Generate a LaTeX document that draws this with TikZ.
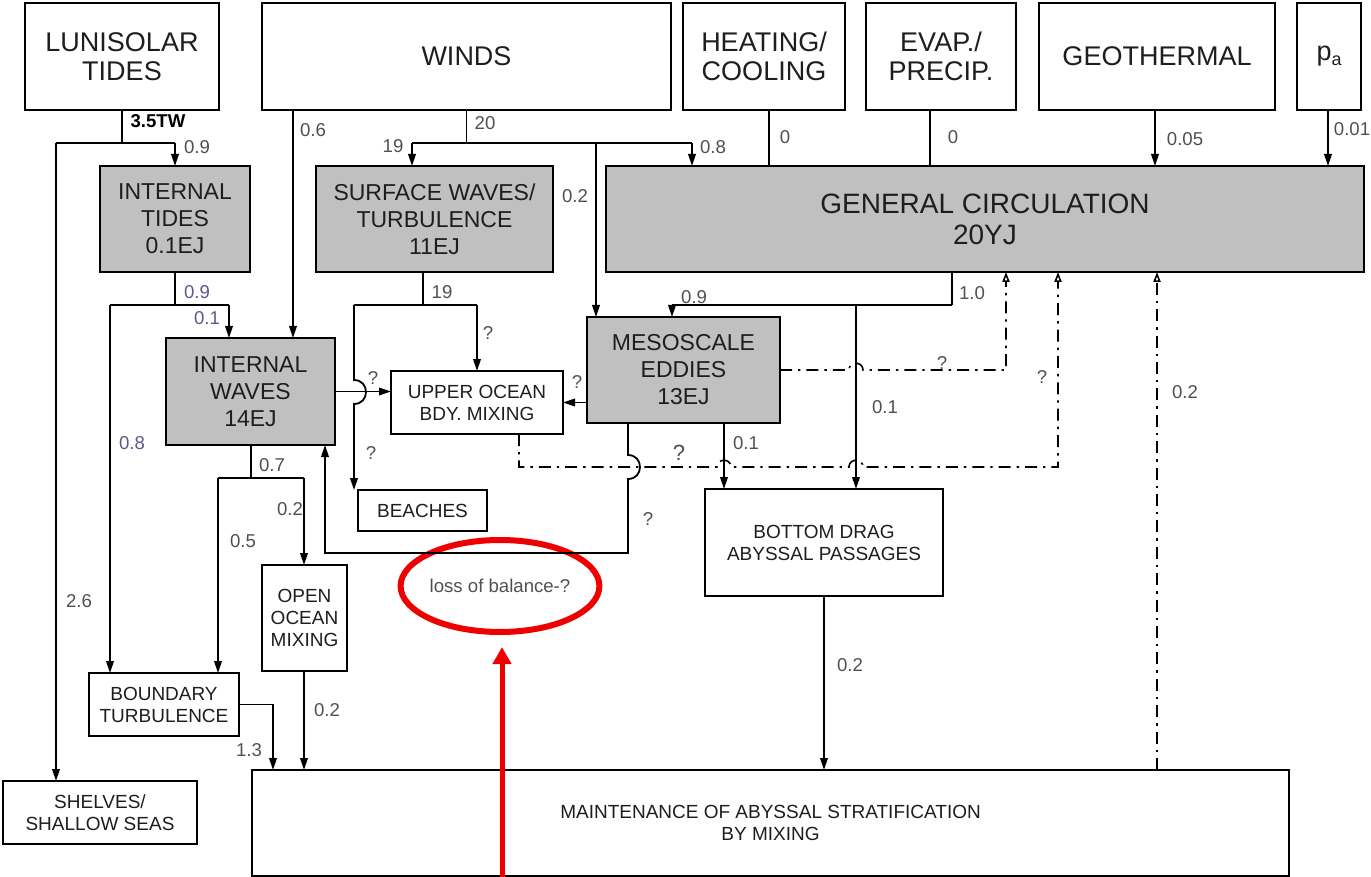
\documentclass[tikz,border=0pt]{standalone}
\usepackage{fontspec}
\setmainfont{Liberation Sans}
\usetikzlibrary{arrows.meta,shapes.geometric}
\definecolor{boxgray}{HTML}{C0C0C0}
\definecolor{lblgray}{HTML}{505050}
\definecolor{lblblue}{HTML}{5A5A8C}
\definecolor{txtcol}{HTML}{1E1E1E}
\definecolor{redmark}{HTML}{EE0000}
\begin{document}
\begin{tikzpicture}[x=0.5pt,y=-0.5pt,
  boxbase/.style={draw=black, line width=1pt, inner sep=0pt, outer sep=0pt, align=center, text=txtcol},
  topbox/.style={boxbase, fill=white, font=\fontsize{13.5}{14.5}\selectfont, minimum height=53.5pt},
  graybox/.style={boxbase, fill=boxgray, font=\fontsize{11.5}{13.5}\selectfont},
  gcbox/.style={boxbase, fill=boxgray, font=\fontsize{14}{15.5}\selectfont},
  smallbox/.style={boxbase, fill=white, font=\fontsize{9.5}{11}\selectfont},
  conn/.style={line width=0.9pt, draw=black},
  arr/.style={conn, -{Triangle[width=3.8pt,length=6pt]}},
  dd/.style={line width=0.8pt, dash pattern=on 6pt off 3pt on 1.2pt off 3pt},
  ddarr/.style={dd, -{Triangle[open,width=3.6pt,length=5pt]}},
  lbl/.style={font=\fontsize{9.3}{10}\selectfont, text=lblgray, inner sep=0pt},
  blbl/.style={lbl, text=lblblue},
]
\useasboundingbox (0,0) rectangle (1371,877);

% ---- boxes
\node[topbox, minimum width=97pt] (lun) at (122,56.5) {LUNISOLAR\\TIDES};
\node[topbox, minimum width=204.5pt] (winds) at (466.5,56.5) {WINDS};
\node[topbox, minimum width=81pt] (heat) at (764,56.5) {HEATING/\\COOLING};
\node[topbox, minimum width=75pt] (evap) at (941,56.5) {EVAP./\\PRECIP.};
\node[topbox, minimum width=118pt] (geo) at (1157,56.5) {GEOTHERMAL};
\node[topbox, minimum width=32pt] (pa) at (1329,56.5) {p\raisebox{-0.35ex}{\fontsize{9}{9}\selectfont a}};

\node[graybox, minimum width=75pt, minimum height=53pt] (itides) at (175,219) {INTERNAL\\TIDES\\0.1EJ};
\node[graybox, minimum width=118.5pt, minimum height=53pt] (surf) at (434.5,219) {SURFACE WAVES/\\TURBULENCE\\11EJ};
\node[gcbox, minimum width=379pt, minimum height=53pt] (gc) at (985,219) {GENERAL CIRCULATION\\20YJ};
\node[graybox, minimum width=84.5pt, minimum height=53.5pt] (iwaves) at (250.5,391.5) {INTERNAL\\WAVES\\14EJ};
\node[smallbox, minimum width=86pt, minimum height=31.5pt] (upper) at (477,402.5) {UPPER OCEAN\\BDY. MIXING};
\node[graybox, minimum width=96.5pt, minimum height=53pt] (meso) at (683.5,370) {MESOSCALE\\EDDIES\\13EJ};
\node[smallbox, minimum width=64.5pt, minimum height=20.5pt] (beaches) at (422.5,510.5) {BEACHES};
\node[smallbox, minimum width=119pt, minimum height=53.5pt] (bdrag) at (824,542.5) {BOTTOM DRAG\\ABYSSAL PASSAGES};
\node[smallbox, minimum width=42.5pt, minimum height=53pt] (oomix) at (304.5,618) {OPEN\\OCEAN\\MIXING};
\node[smallbox, minimum width=75pt, minimum height=31.5pt] (bturb) at (164,704.5) {BOUNDARY\\TURBULENCE};
\node[smallbox, minimum width=97pt, minimum height=31.5pt] (shelves) at (100,812.5) {SHELVES/\\SHALLOW SEAS};
\node[smallbox, minimum width=518.5pt, minimum height=53pt] (maint) at (770.5,823) {MAINTENANCE OF ABYSSAL STRATIFICATION\\BY MIXING};

\node[draw=redmark, line width=3pt, ellipse, minimum width=99pt, minimum height=46pt, inner sep=0pt,
      font=\fontsize{9.3}{10}\selectfont, text=lblgray] (loss) at (500,586) {loss of balance-?};

% ---- lunisolar
\coordinate (jl) at (122,143);
\coordinate (jlL) at (56,143);
\coordinate (jlR) at (175,143);
\draw[conn] (lun.south) -- (jl);
\draw[conn] (jlL) -- (jlR);
\draw[arr] (jlR) -- (itides.north);
\draw[arr] (jlL) -- (jlL |- shelves.north);

% ---- internal tides
\coordinate (jt) at (175,305);
\coordinate (jtL) at (110,305);
\coordinate (jtR) at (229,305);
\draw[conn] (itides.south) -- (jt);
\draw[conn] (jtL) -- (jtR);
\draw[arr] (jtR) -- (jtR |- iwaves.north);
\draw[arr] (jtL) -- (jtL |- bturb.north);

% ---- winds
\coordinate (jw) at (466.5,143);
\coordinate (jwL) at (412,143);
\coordinate (jwM) at (596,143);
\coordinate (jwR) at (692,143);
\coordinate (w06) at (293,143);
\draw[arr] (w06 |- winds.south) -- (w06 |- iwaves.north);
\draw[conn] (winds.south) -- (jw);
\draw[conn] (jwL) -- (jwR);
\draw[arr] (jwL) -- (jwL |- surf.north);
\draw[arr] (jwM) -- (jwM |- meso.north);
\draw[arr] (jwR) -- (jwR |- gc.north);

% ---- other forcings
\coordinate (ch) at (769,143);
\draw[conn] (ch |- heat.south) -- (ch |- gc.north);
\coordinate (ce) at (930,143);
\draw[conn] (ce |- evap.south) -- (ce |- gc.north);
\coordinate (cg) at (1155,143);
\draw[arr] (cg |- geo.south) -- (cg |- gc.north);
\coordinate (cp) at (1328,143);
\draw[arr] (cp |- pa.south) -- (cp |- gc.north);

% ---- surface waves
\coordinate (js) at (423,305);
\coordinate (jsL) at (354,305);
\coordinate (jsR) at (477,305);
\draw[conn] (js |- surf.south) -- (js);
\draw[conn] (jsL) -- (jsR);
\draw[arr] (jsR) -- (jsR |- upper.north);
\draw[arr] (jsL) -- (354,380) .. controls (370,380) and (370,404) .. (354,404) -- (jsL |- beaches.north);

% ---- into upper ocean
\draw[arr] (iwaves.east) -- (iwaves.east -| upper.west);
\draw[arr] (meso.west |- upper.east) -- (upper.east);

% ---- general circulation
\coordinate (jg) at (952,305);
\coordinate (jgL) at (672,305);
\coordinate (jgM) at (856,305);
\draw[conn] (jg |- gc.south) -- (jg);
\draw[conn] (jgL) -- (jg);
\draw[arr] (jgL) -- (jgL |- meso.north);
\draw[arr] (jgM) -- (jgM |- bdrag.north);

% ---- dash-dot returns
\coordinate (d1) at (1006,370);
\draw[ddarr] (meso.east) -- (849,370) .. controls (849,361) and (863,361) .. (863,370) -- (d1) -- (d1 |- gc.south);
\coordinate (d2) at (1058,467);
\coordinate (d2s) at (519,467);
\draw[ddarr] (d2s |- upper.south) -- (d2s) -- (717,467) .. controls (717,458) and (731,458) .. (731,467)
   -- (849,467) .. controls (849,458) and (863,458) .. (863,467) -- (d2) -- (d2 |- gc.south);
\coordinate (d3) at (1157,467);
\draw[ddarr] (d3 |- maint.north) -- (d3 |- gc.south);

% ---- mesoscale outputs
\coordinate (ml) at (628,553);
\coordinate (mr) at (325,553);
\draw[arr] (ml |- meso.south) -- (628,455) .. controls (644,455) and (644,479) .. (628,479) -- (ml) -- (mr) -- (mr |- iwaves.south);
\coordinate (mb) at (724,443);
\draw[arr] (mb |- meso.south) -- (mb |- bdrag.north);

% ---- internal waves outputs
\coordinate (ji) at (251,478);
\coordinate (jiL) at (218,478);
\coordinate (jiR) at (304,478);
\draw[conn] (ji |- iwaves.south) -- (ji);
\draw[conn] (jiL) -- (jiR);
\draw[arr] (jiR) -- (jiR |- oomix.north);
\draw[arr] (jiL) -- (jiL |- bturb.north);

% ---- into maintenance
\draw[arr] (oomix.south -| jiR) -- (jiR |- maint.north);
\coordinate (bt) at (273,704.5);
\draw[arr] (bturb.east) -- (bt) -- (bt |- maint.north);
\draw[arr] (bdrag.south) -- (bdrag.south |- maint.north);

% ---- red marker
\coordinate (rbase) at (502,882);
\coordinate (rtip) at (502,647);
\draw[redmark, line width=2.5pt, -{Triangle[width=9pt,length=8.5pt]}] (rbase) -- (rtip);

% ---- labels
\node[lbl, text=black] (l1) at (158,121) {\bfseries 3.5TW};
\node[lbl] (l2) at (197,147) {0.9};
\node[lbl] (l3) at (79,601) {2.6};
\node[blbl] (l4) at (197,292) {0.9};
\node[blbl] (l5) at (207,318) {0.1};
\node[blbl] (l6) at (132,443) {0.8};
\node[lbl] (l7) at (313,130) {0.6};
\node[lbl] (l8) at (485,123) {20};
\node[lbl] (l9) at (393,146) {19};
\node[lbl] (l10) at (713,147) {0.8};
\node[lbl] (l11) at (575,196) {0.2};
\node[lbl] (l12) at (785,137) {0};
\node[lbl] (l13) at (953,137) {0};
\node[lbl] (l14) at (1185,139) {0.05};
\node[lbl] (l15) at (1352,129) {0.01};
\node[lbl] (l16) at (442,292) {19};
\node[lbl] (l17) at (488,333) {?};
\node[lbl] (l18) at (373,378) {?};
\node[lbl] (l19) at (371,453) {?};
\node[lbl] (l20) at (577,382) {?};
\node[lbl] (l21) at (972,293) {1.0};
\node[lbl] (l22) at (694,297) {0.9};
\node[lbl] (l23) at (885,407) {0.1};
\node[lbl] (l24) at (942,363) {?};
\node[lbl] (l25) at (1042,377) {?};
\node[lbl, font=\fontsize{11}{12}\selectfont] (l26) at (679,453) {?};
\node[lbl] (l27) at (1185,392) {0.2};
\node[lbl] (l28) at (648,519) {?};
\node[lbl] (l29) at (746,443) {0.1};
\node[lbl] (l30) at (272,465) {0.7};
\node[lbl] (l31) at (290,509) {0.2};
\node[lbl] (l32) at (243,541) {0.5};
\node[lbl] (l33) at (327,710) {0.2};
\node[lbl] (l34) at (249,750) {1.3};
\node[lbl] (l35) at (850,665) {0.2};
\end{tikzpicture}
\end{document}
